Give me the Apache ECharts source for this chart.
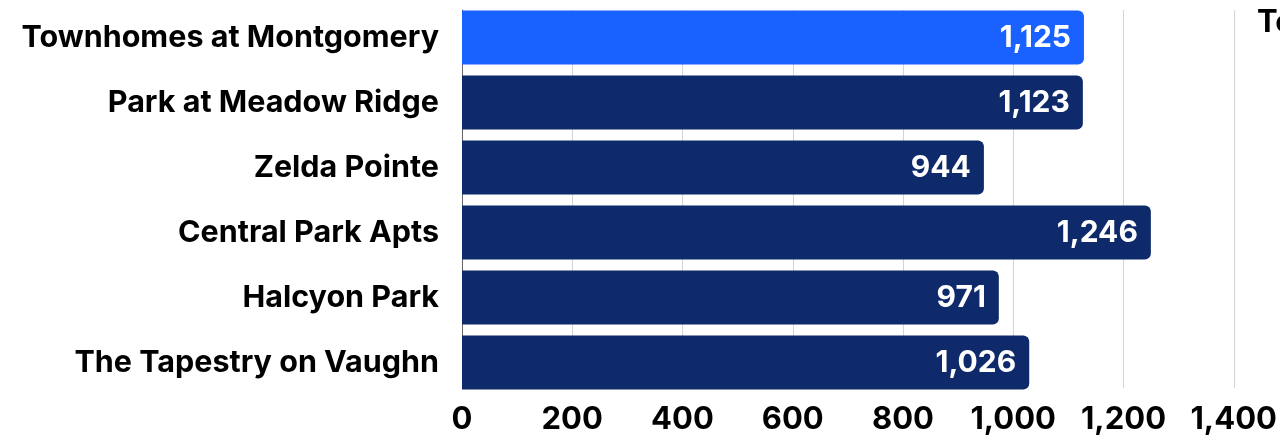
<!DOCTYPE html>
<html><head><meta charset="utf-8">
<script src="https://cdn.jsdelivr.net/npm/echarts@6/dist/echarts.min.js"></script>
<style>html,body{margin:0;padding:0;background:#fff}#c{width:1280px;height:435px}</style>
</head><body><div id="c"></div>
<script>
const categories = ["Townhomes at Montgomery","Park at Meadow Ridge","Zelda Pointe","Central Park Apts","Halcyon Park","The Tapestry on Vaughn"];
const values = [1125, 1123, 944, 1246, 971, 1026];
const xTicks = [0, 200, 400, 600, 800, 1000, 1200, 1400];
const highlightIndex = 0;
const sideText = "Te";

const FONT = 'Inter, "Noto Sans", sans-serif';
const fmt = v => Number(v).toLocaleString('en-US');
const xMin = xTicks[0], xMax = xTicks[xTicks.length - 1];
const chart = echarts.init(document.getElementById('c'));
chart.setOption({
  animation: false,
  title: { text: sideText, left: 1257, top: 7, padding: 0, textStyle: { fontFamily: FONT, fontWeight: 700, fontSize: 31, color: '#000' } },
  grid: [
    { left: 462, right: 44, top: 10, bottom: 46 },
    { left: 462, right: 44, top: 5, bottom: 40 }
  ],
  xAxis: [{
    gridIndex: 0, type: 'value', min: xMin, max: xMax, interval: 200,
    axisLine: { show: false }, axisTick: { show: false },
    splitLine: { show: true, lineStyle: { color: '#d4d4d4', width: 1 } },
    axisLabel: { fontFamily: FONT, fontWeight: 700, fontSize: 31, color: '#000', margin: 16, formatter: fmt }
  }, {
    gridIndex: 1, type: 'value', min: xMin, max: xMax, interval: 200, show: false
  }],
  yAxis: [{
    gridIndex: 0, type: 'category', data: categories, inverse: true,
    axisLine: { show: true, lineStyle: { color: '#666', width: 1 } },
    axisTick: { show: false }, axisLabel: { show: false }
  }, {
    gridIndex: 1, type: 'category', data: categories, inverse: true,
    axisLine: { show: false }, axisTick: { show: false },
    axisLabel: { fontFamily: FONT, fontWeight: 700, fontSize: 30.5, color: '#000', margin: 23 }
  }],
  series: [{
    type: 'bar', xAxisIndex: 1, yAxisIndex: 1,
    data: values.map((v, i) => ({ value: v, itemStyle: { color: i === highlightIndex ? '#1a62ff' : '#0f2a6b' } })),
    barCategoryGap: '17%',
    itemStyle: { borderRadius: [0, 6, 6, 0] },
    label: { show: true, position: 'insideRight', distance: 13, color: '#fff', fontFamily: FONT, fontWeight: 700, fontSize: 30,
      formatter: p => fmt(p.value) }
  }]
});
</script></body></html>
